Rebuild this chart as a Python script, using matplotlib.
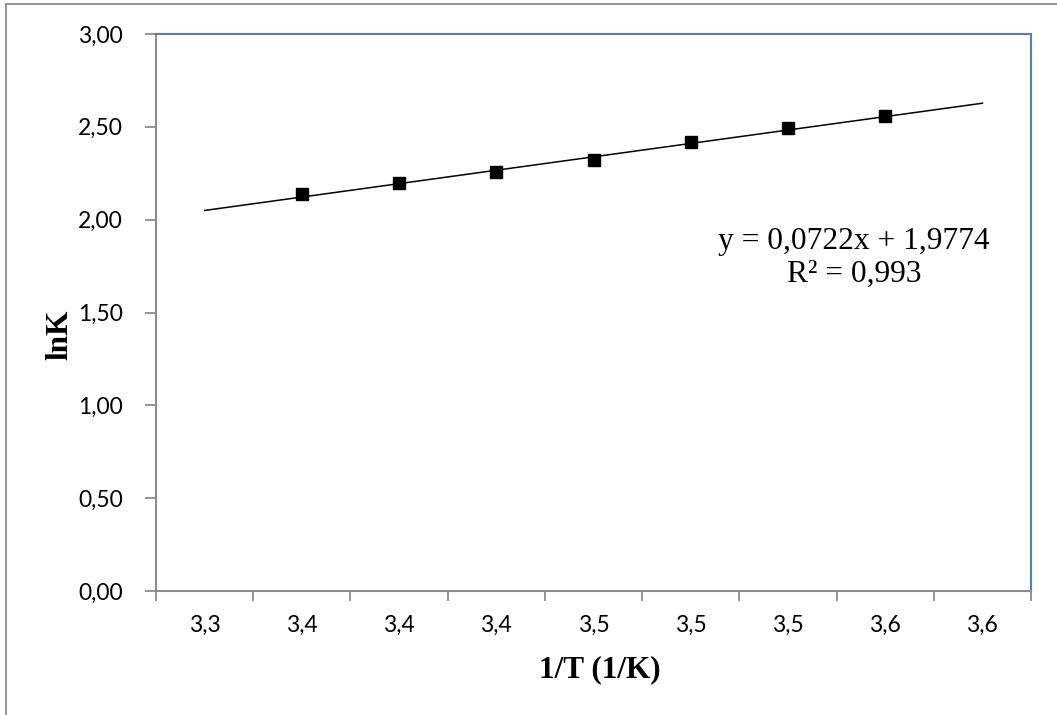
import matplotlib
matplotlib.use("Agg")
import matplotlib.pyplot as plt
from matplotlib.patches import Rectangle
import numpy as np

# ---- data ----
categories = ["3,3", "3,4", "3,4", "3,4", "3,5", "3,5", "3,5", "3,6", "3,6"]
point_index = [2, 3, 4, 5, 6, 7, 8]          # category positions holding data
lnK = [2.14, 2.20, 2.255, 2.32, 2.42, 2.495, 2.56]
slope = 0.0722
intercept = 1.9774
r2_text = "0,993"
y_ticks = [0.0, 0.5, 1.0, 1.5, 2.0, 2.5, 3.0]

W, H = 1057, 715
fig = plt.figure(figsize=(W / 100, H / 100), dpi=100)

# outer chart-area frame (left/top visible)
fig.patches.append(Rectangle((6 / W, -0.1), 1.2, 1 - 4 / H + 0.1,
                             transform=fig.transFigure, fill=False,
                             edgecolor="#8c8c8c", linewidth=1.3))

ax = fig.add_axes([156 / W, 1 - 591 / H, (1031 - 156) / W, (591 - 34) / H])

ncat = len(categories)
pos = np.arange(1, ncat + 1)

# trendline across all categories
trend_x = np.array([pos[0], pos[-1]])
trend_y = slope * trend_x + intercept
ax.plot(trend_x, trend_y, color="black", linewidth=1.1, zorder=2)

# data points
ax.plot(point_index, lnK, linestyle="none", marker="s", markersize=8.5,
        color="black", zorder=3)

ax.set_xlim(0.5, ncat + 0.5)
ax.set_ylim(0, 3)

# category axis: tick marks between categories, labels at centres
ax.set_xticks(np.arange(0.5, ncat + 1.0, 1.0))
ax.set_xticklabels([])
ax.set_xticks(pos, minor=True)
ax.set_xticklabels(categories, minor=True)
ax.tick_params(axis="x", which="major", direction="out", length=7,
               width=1.3, color="#8c8c8c")
ax.tick_params(axis="x", which="minor", length=0, pad=17,
               labelsize=16.5)

ax.set_yticks(y_ticks)
ax.set_yticklabels([f"{v:.2f}".replace(".", ",") for v in y_ticks])
ax.tick_params(axis="y", direction="out", length=8, width=1.3,
               color="#8c8c8c", pad=16, labelsize=16.5)

for lab in ax.get_xticklabels(minor=True) + ax.get_yticklabels():
    lab.set_fontfamily("Lato")

ax.spines["left"].set_color("#8c8c8c")
ax.spines["bottom"].set_color("#8c8c8c")
ax.spines["left"].set_linewidth(1.5)
ax.spines["bottom"].set_linewidth(1.5)
ax.spines["top"].set_color("#4F81BD")
ax.spines["right"].set_color("#4F81BD")
ax.spines["top"].set_linewidth(1.5)
ax.spines["right"].set_linewidth(1.5)

# axis titles
fig.text(600 / W, 1 - 670 / H, "1/T (1/K)", ha="center", va="center",
         fontsize=22.5, fontweight="bold", fontfamily="Liberation Serif")
fig.text(60 / W, 1 - 335 / H, "lnK", ha="center", va="center",
         rotation=90, fontsize=22.5, fontweight="bold",
         fontfamily="Liberation Serif")

# trendline equation
eq = ("y = " + f"{slope:.4f}".replace(".", ",") + "x + "
      + f"{intercept:.4f}".replace(".", ",") + "\nR² = " + r2_text)
fig.text(854 / W, 1 - 258 / H, eq, ha="center", va="center",
         multialignment="center", fontsize=22.7,
         fontfamily="Liberation Serif", linespacing=1.17)

fig.savefig("out.png", dpi=100)
